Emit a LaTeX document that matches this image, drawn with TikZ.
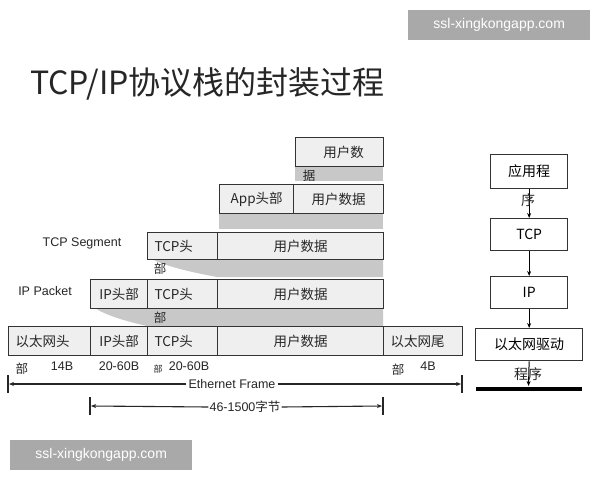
\documentclass[tikz,border=0pt]{standalone}
\usepackage{fontspec}
\setmainfont{Liberation Sans}
\newfontfamily\cjk{Noto Sans CJK SC}
\usetikzlibrary{arrows.meta}
\definecolor{band}{HTML}{C8C8C8}
\definecolor{boxfill}{HTML}{EFEFEF}
\definecolor{edge}{HTML}{333333}
\definecolor{wm}{HTML}{A9A9A9}
\begin{document}
\begin{tikzpicture}[x=1pt,y=-1pt,
  cell/.style={draw=edge,line width=1.3pt,fill=boxfill,inner sep=0pt,anchor=north west},
  celltext/.style={font=\cjk\fontsize{13.5}{15}\selectfont,text=black!85},
  stackbox/.style={draw=edge,line width=1.3pt,fill=white,inner sep=0pt,anchor=north west,font=\cjk\fontsize{14}{16}\selectfont},
  lbl/.style={font=\fontsize{12.5}{14}\selectfont,text=black!85,inner sep=1pt},
  cjklbl/.style={font=\cjk\fontsize{12.5}{14}\selectfont,text=black!85,inner sep=0pt},
  dim/.style={line width=1.1pt,draw=black!85},
  tick/.style={line width=1.4pt,draw=black!85},
  flow/.style={line width=1pt,-{Stealth[length=5pt,width=4pt]}}
]
\useasboundingbox (0,0) rectangle (600,480);
\fill[white] (0,0) rectangle (600,480);
% watermarks
\node[fill=wm,text=white,minimum width=182pt,minimum height=30pt,inner sep=0pt,anchor=north west,font=\fontsize{14}{16}\selectfont] (wm1) at (408,10) {ssl-xingkongapp.com};
\node[fill=wm,text=white,minimum width=182pt,minimum height=30pt,inner sep=0pt,anchor=north west,font=\fontsize{14}{16}\selectfont] (wm2) at (10,440) {ssl-xingkongapp.com};
% title
\node[font=\cjk\fontsize{32}{36}\selectfont,text=black!85,anchor=west,inner sep=0pt] (title) at (30,84) {TCP/IP协议栈的封装过程};

% gray bands
\fill[band] (295,166) rectangle (383,181);
\fill[band] (219,213) rectangle (383,229);
\fill[band] (152,259) -- (383,259) -- (383,277) -- (217,277) .. controls (190,272) and (165,266) .. (152,259) -- cycle;
\fill[band] (95,308) -- (383,308) -- (383,326) -- (147,326) .. controls (125,321) and (105,315) .. (95,308) -- cycle;

% user data top
\node[cell,minimum width=88pt,minimum height=29pt] (u0) at (295,137) {};
\node[celltext] at ([xshift=4pt]u0.center) {用户数};
\node[cjklbl] (u0b) at (309,176) {据};

% app row
\node[cell,minimum width=74pt,minimum height=29pt] (apph) at (219,184) {};
\node[celltext] at (apph.center) {App头部};
\node[cell,minimum width=90pt,minimum height=29pt] (appd) at (293,184) {};
\node[celltext] at (appd.center) {用户数据};

% TCP row
\node[lbl,anchor=center] (tcpseg) at (82,243) {TCP Segment};
\node[cell,minimum width=70pt,minimum height=27pt] (tcph) at (147,232) {};
\node[celltext,anchor=west] at ([xshift=4pt]tcph.west) {TCP头};
\node[cell,minimum width=166pt,minimum height=27pt] (tcpd) at (217,232) {};
\node[celltext] at (tcpd.center) {用户数据};
\node[cjklbl] (tcpb) at (160,269) {部};

% IP row
\node[lbl,anchor=center] (ippk) at (45,291) {IP Packet};
\node[cell,minimum width=57pt,minimum height=29pt] (iph) at (90,279) {};
\node[celltext] at (iph.center) {IP头部};
\node[cell,minimum width=70pt,minimum height=29pt] (iptcp) at (147,279) {};
\node[celltext,anchor=west] at ([xshift=4pt]iptcp.west) {TCP头};
\node[cell,minimum width=166pt,minimum height=29pt] (ipd) at (217,279) {};
\node[celltext] at (ipd.center) {用户数据};
\node[cjklbl] (ipb) at (160,318) {部};

% Ethernet row
\node[cell,minimum width=82pt,minimum height=29pt] (eh) at (8,326) {};
\node[celltext,anchor=west] at ([xshift=4pt]eh.west) {以太网头};
\node[cell,minimum width=57pt,minimum height=29pt] (eip) at (90,326) {};
\node[celltext] at (eip.center) {IP头部};
\node[cell,minimum width=70pt,minimum height=29pt] (etcp) at (147,326) {};
\node[celltext,anchor=west] at ([xshift=4pt]etcp.west) {TCP头};
\node[cell,minimum width=166pt,minimum height=29pt] (ed) at (217,326) {};
\node[celltext] at (ed.center) {用户数据};
\node[cell,minimum width=79pt,minimum height=29pt] (et) at (383,326) {};
\node[celltext,anchor=west] at ([xshift=4pt]et.west) {以太网尾};

% size labels
\node[cjklbl] (b1) at (22,369) {部};
\node[lbl] (s1) at (62,366) {14B};
\node[lbl] (s2) at (119,366) {20-60B};
\node[cjklbl,font=\cjk\fontsize{9}{10}\selectfont] (b2) at (158,369) {部};
\node[lbl] (s3) at (189,366) {20-60B};
\node[cjklbl] (b3) at (398,370) {部};
\node[lbl] (s4) at (428,366) {4B};

% Ethernet frame dimension
\coordinate (efl) at (9,384);
\coordinate (efr) at (461,384);
\draw[tick] (8,375) -- (8,393);
\draw[tick] (462,375) -- (462,393);
\node[lbl,fill=white,inner sep=2pt] (eftext) at (232,384) {Ethernet Frame};
\draw[dim,-{Stealth[length=5pt,width=4pt]}] (eftext.west) -- (efl);
\draw[dim,-{Stealth[length=5pt,width=4pt]}] (eftext.east) -- (efr);

% payload dimension
\coordinate (pl) at (91,406);
\coordinate (pr) at (382,406);
\draw[tick] (90,397) -- (90,415);
\draw[tick] (383,397) -- (383,415);
\node[lbl,fill=white,inner sep=1pt] (ptext) at (245,407) {46-1500\cjk 字节};
\draw[dim,-{Stealth[length=5pt,width=4pt]}] (ptext.west) -- (pl);
\draw[dim,-{Stealth[length=5pt,width=4pt]}] (ptext.east) -- (pr);

% right stack
\node[stackbox,minimum width=77pt,minimum height=34pt] (app) at (490,154) {应用程};
\node[stackbox,minimum width=77pt,minimum height=32pt] (tcp) at (490,218) {TCP};
\node[stackbox,minimum width=77pt,minimum height=32pt] (ip) at (490,276) {IP};
\node[stackbox,minimum width=107pt,minimum height=32pt] (drv) at (475,328) {以太网驱动};
\coordinate (wire) at (528.5,386);
\draw[flow] (app.south) -- (tcp.north);
\draw[flow] (tcp.south) -- (ip.north);
\draw[flow] (ip.south) -- (ip.south |- drv.north);
\draw[flow] (ip.south |- drv.south) -- (wire);
\node[cjklbl,font=\cjk\fontsize{14}{16}\selectfont] (appb) at (528,200) {序};
\node[cjklbl,font=\cjk\fontsize{14}{16}\selectfont] (drvb) at (528,374) {程序};
\draw[line width=4pt] (476,389) -- (582,389);
\end{tikzpicture}
\end{document}
